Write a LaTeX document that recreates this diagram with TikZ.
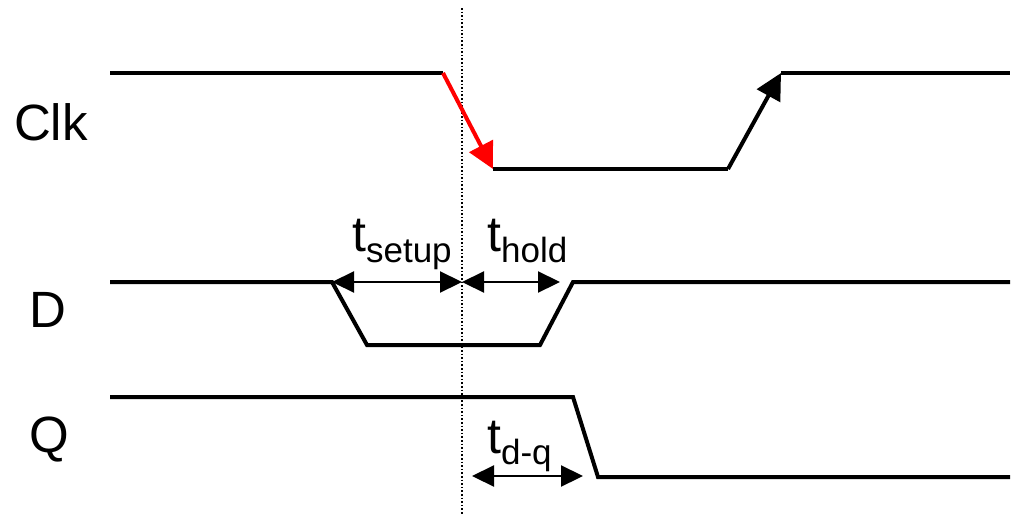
\documentclass[tikz,border=0pt]{standalone}
\usepackage{fontspec}
\setmainfont{Liberation Sans}
\usetikzlibrary{arrows.meta}
\tikzset{
  sig/.style={line width=4pt, line join=miter},
  dim/.style={line width=2.2pt, {Triangle[length=22pt,width=21pt]}-{Triangle[length=22pt,width=21pt]}},
  lbl/.style={inner sep=0pt, font=\fontsize{51}{51}\selectfont},
  tlbl/.style={inner sep=0pt, anchor=base west},
}
\newcommand{\tsub}[1]{{\fontsize{50}{50}\selectfont t}{\fontsize{35}{35}\selectfont\raisebox{-11.5pt}{#1}}}
\begin{document}
\begin{tikzpicture}[x=1pt,y=-1pt]
\useasboundingbox (0,0) rectangle (1011,514);
% labels
\node[lbl] (clk) at (51,122) {Clk};
\node[lbl] (dl) at (48,310) {D};
\node[lbl] (ql) at (49,440) {Q};
% dotted reference
\coordinate (vt) at (462,8);
\coordinate (vb) at (462,514);
\draw[line width=1.6pt, dotted] (vt) -- (vb);
% Clk
\coordinate (c0) at (110,73);
\coordinate (c1) at (443,73);
\coordinate (c2) at (493,169);
\coordinate (c3) at (728,169);
\coordinate (c4) at (781,73);
\coordinate (c5) at (1010,73);
\draw[sig] (c0) -- (c1);
\draw[sig, red, -{Triangle[length=26pt,width=26pt]}] (c1) -- (c2);
\draw[sig] (c2) -- (c3);
\draw[sig, -{Triangle[length=26pt,width=26pt]}] (c3) -- (c4);
\draw[sig] (c4) -- (c5);
% D
\coordinate (d0) at (110,282);
\coordinate (d1) at (332,282);
\coordinate (d2) at (367,345);
\coordinate (d3) at (540,345);
\coordinate (d4) at (573,282);
\coordinate (d5) at (1010,282);
\draw[sig] (d0) -- (d1) -- (d2) -- (d3) -- (d4) -- (d5);
% Q
\coordinate (q0) at (110,397);
\coordinate (q1) at (573,397);
\coordinate (q2) at (598,477);
\coordinate (q3) at (1010,477);
\draw[sig] (q0) -- (q1) -- (q2) -- (q3);
% dimension arrows
\coordinate (dm) at (462,282);
\coordinate (hd) at (560,282);
\draw[dim] (d1) -- (dm);
\draw[dim] (dm) -- (hd);
\coordinate (ta) at (472,476);
\coordinate (tb) at (583,476);
\draw[dim] (ta) -- (tb);
% dimension labels
\node[tlbl] (ts) at (352,251) {\tsub{setup}};
\node[tlbl] (th) at (487,251) {\tsub{hold}};
\node[tlbl] (tq) at (487,453) {\tsub{d-q}};
\end{tikzpicture}
\end{document}
